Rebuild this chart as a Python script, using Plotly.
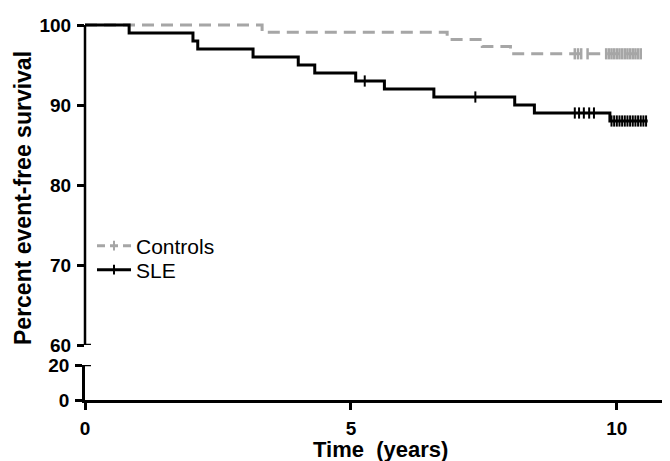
import plotly.graph_objects as go

# ---- data ----
sle_event_times = [0.83, 2.03, 2.12, 3.16, 4.01, 4.32, 5.09, 5.63, 6.56, 8.08, 8.45, 9.87]
sle_event_surv = [99.0, 98.0, 97.0, 96.0, 95.0, 94.0, 93.0, 92.0, 91.0, 90.0, 89.0, 88.0]
sle_end_time = 10.58
sle_censor_times = [5.26, 7.34, 9.21, 9.29, 9.38, 9.48, 9.57,
                    9.90, 9.95, 10.00, 10.05, 10.10, 10.15, 10.20, 10.25,
                    10.30, 10.35, 10.40, 10.45, 10.50, 10.55]

ctl_event_times = [3.33, 6.81, 7.47, 8.00]
ctl_event_surv = [99.1, 98.2, 97.3, 96.4]
ctl_end_time = 10.47
ctl_censor_times = [9.21, 9.27, 9.33, 9.45,
                    9.80, 9.85, 9.90, 9.95, 10.00, 10.05, 10.10, 10.15,
                    10.20, 10.25, 10.30, 10.35, 10.40, 10.45]

x_ticks = [0, 5, 10]
y_ticks_top = [60, 70, 80, 90, 100]
y_ticks_bottom = [0, 20]

FONT = "Liberation Sans, Arial, sans-serif"
SLE_COLOR = "#000000"
CTL_COLOR = "#a6a6a6"


def step_xy(times, surv, end):
    xs = [0.0] + list(times) + [end]
    ys = [100.0] + list(surv) + [surv[-1]]
    return xs, ys


def level_at(t, times, surv):
    lvl = 100.0
    for tt, s in zip(times, surv):
        if t >= tt:
            lvl = s
    return lvl


fig = go.Figure()

# Controls
cx, cy = step_xy(ctl_event_times, ctl_event_surv, ctl_end_time)
fig.add_trace(go.Scatter(x=cx, y=cy, mode="lines", line_shape="hv",
                         line=dict(color=CTL_COLOR, width=3, dash="12px,7px"),
                         yaxis="y2", showlegend=False, hoverinfo="skip"))
fig.add_trace(go.Scatter(x=ctl_censor_times,
                         y=[level_at(t, ctl_event_times, ctl_event_surv) for t in ctl_censor_times],
                         mode="markers", yaxis="y2", showlegend=False, hoverinfo="skip",
                         marker=dict(symbol="line-ns", size=8,
                                     line=dict(color=CTL_COLOR, width=2.5))))
# SLE
sx, sy = step_xy(sle_event_times, sle_event_surv, sle_end_time)
fig.add_trace(go.Scatter(x=sx, y=sy, mode="lines", line_shape="hv",
                         line=dict(color=SLE_COLOR, width=3),
                         yaxis="y2", showlegend=False, hoverinfo="skip"))
fig.add_trace(go.Scatter(x=sle_censor_times,
                         y=[level_at(t, sle_event_times, sle_event_surv) for t in sle_censor_times],
                         mode="markers", yaxis="y2", showlegend=False, hoverinfo="skip",
                         marker=dict(symbol="line-ns", size=8,
                                     line=dict(color=SLE_COLOR, width=2))))

# legend entries (one legend box per row for exact placement)
fig.add_trace(go.Scatter(x=[None], y=[None], mode="lines+markers", name="Controls",
                         yaxis="y2", legend="legend",
                         line=dict(color=CTL_COLOR, width=3, dash="8px,5px"),
                         marker=dict(symbol="line-ns", size=7, line=dict(color=CTL_COLOR, width=2))))
fig.add_trace(go.Scatter(x=[None], y=[None], mode="lines+markers", name="SLE",
                         yaxis="y2", legend="legend2",
                         line=dict(color=SLE_COLOR, width=3),
                         marker=dict(symbol="line-ns", size=7, line=dict(color=SLE_COLOR, width=2))))

# page body has an 8px margin, so the figure is sized/offset to compensate
W, H = 662, 453
ML, MR, MT, MB = 77, 0, 12, 61
plot_w = W - ML - MR  # 585
plot_h = H - MT - MB  # 380
bottom_top = 35 / plot_h
top_bottom = 55 / plot_h


def px_x(p):  # screen x pixel -> paper x
    return (p - 85) / plot_w


def px_y(p):  # screen y pixel -> paper y
    return (400 - p) / plot_h


axis_common = dict(showgrid=False, zeroline=False, ticks="outside", ticklen=7,
                   tickwidth=2.5, tickcolor="black", linecolor="black", linewidth=2.5,
                   ticklabelstandoff=2,
                   tickfont=dict(family=FONT, size=19, color="black", weight="bold"))

legend_common = dict(xanchor="left", yanchor="middle", itemwidth=34,
                     font=dict(family=FONT, size=21, color="black"),
                     bgcolor="rgba(0,0,0,0)", borderwidth=0)

fig.update_layout(
    width=W, height=H,
    margin=dict(l=ML, r=MR, t=MT, b=MB),
    plot_bgcolor="white", paper_bgcolor="white",
    xaxis=dict(range=[0, 11], tickvals=x_ticks, showline=True, anchor="y", **axis_common),
    yaxis=dict(domain=[0, bottom_top], range=[0, 20], tickvals=y_ticks_bottom,
               showline=True, anchor="x", **axis_common),
    yaxis2=dict(domain=[top_bottom, 1], range=[60, 100.625], tickvals=y_ticks_top,
                showline=False, anchor="x", **axis_common),
    legend=dict(x=px_x(92), y=px_y(246), **legend_common),
    legend2=dict(x=px_x(92), y=px_y(270), **legend_common),
    showlegend=True,
)

# top axis line (60..100) and break marks
fig.add_shape(type="line", xref="paper", yref="y2", x0=0, x1=0, y0=60, y1=100,
              line=dict(color="black", width=2.5))
fig.add_shape(type="line", xref="paper", yref="y2", x0=0, x1=6 / plot_w, y0=60, y1=60,
              line=dict(color="black", width=2.5))
fig.add_shape(type="line", xref="paper", yref="y", x0=0, x1=6 / plot_w, y0=20, y1=20,
              line=dict(color="black", width=2.5))

fig.add_annotation(text="<b>Percent event-free survival</b>", xref="paper", yref="paper",
                   x=px_x(23), y=px_y(198), textangle=-90,
                   showarrow=False, xanchor="center", yanchor="middle",
                   font=dict(family=FONT, size=23, color="black"))
fig.add_annotation(text="<b>Time  (years)</b>", xref="paper", yref="paper",
                   x=px_x(380), y=px_y(449),
                   showarrow=False, xanchor="center", yanchor="middle",
                   font=dict(family=FONT, size=22, color="black"))

fig.write_html("out.html")
